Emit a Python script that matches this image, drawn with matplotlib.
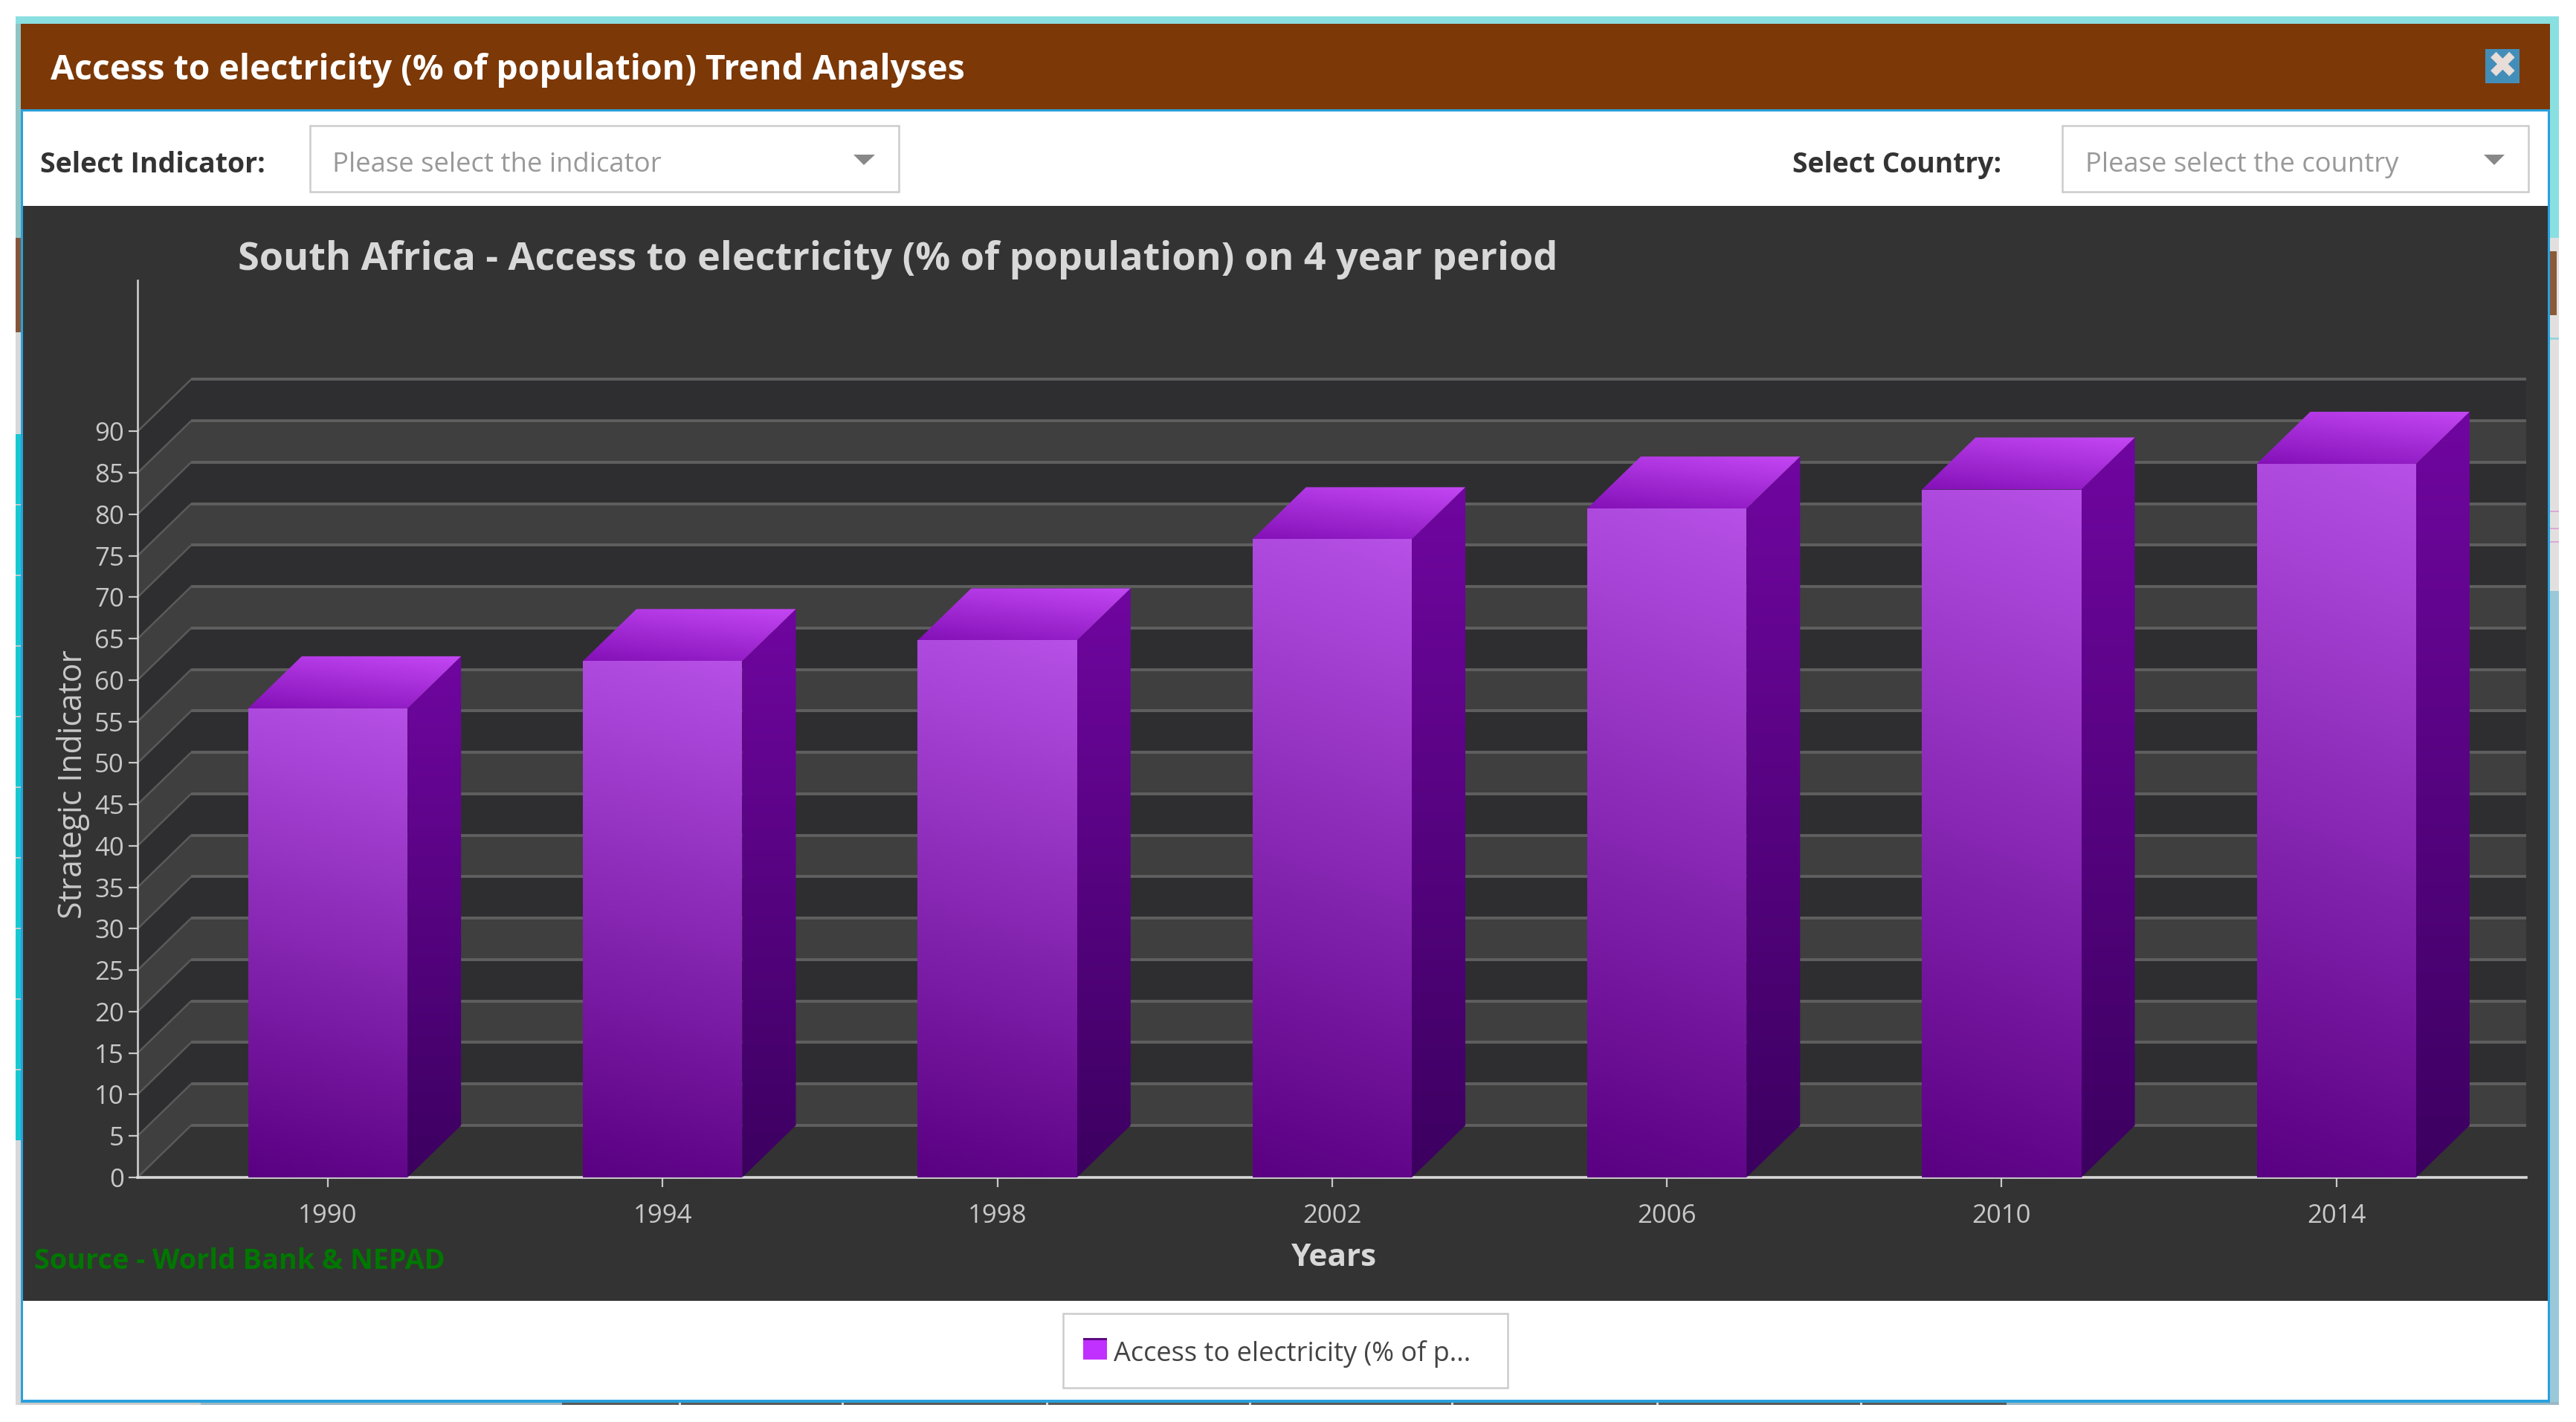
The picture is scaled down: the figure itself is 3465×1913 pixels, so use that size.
import numpy as np
import matplotlib
matplotlib.use("Agg")
import matplotlib.pyplot as plt
from matplotlib.colors import LinearSegmentedColormap
from matplotlib.patches import Polygon, Rectangle

years = ["1990", "1994", "1998", "2002", "2006", "2010", "2014"]
access = [56.6, 62.3, 64.8, 77.0, 80.7, 83.0, 86.1]
y_levels = list(range(0, 95, 5))

plt.rcParams['font.family'] = ['Open Sans', 'DejaVu Sans']

W, H = 3466, 1913
fig = plt.figure(figsize=(W / 100, H / 100), dpi=100, facecolor="white")

# page chrome, in pixel coordinates
bg = fig.add_axes([0, 0, 1, 1])
bg.set_xlim(0, W)
bg.set_ylim(H, 0)
bg.axis("off")


def box(x0, y0, x1, y1, color, **kw):
    bg.add_patch(Rectangle((x0, y0), x1 - x0, y1 - y0, facecolor=color, edgecolor=kw.pop("ec", "none"), **kw))


# bits of the page showing behind the dialog
box(21, 22, 3442, 32, "#8adfe0")
box(21, 32, 28, 320, "#8fc4c4")
box(21, 320, 28, 447, "#85553a")
box(21, 447, 28, 584, "#d8d8d8")
box(21, 584, 28, 1534, "#18c8d0")
for y in range(678, 1530, 95):
    box(21, y, 28, y + 2, "#c8c8c8")
box(21, 1534, 28, 1890, "#d8d8d8")
box(3430, 32, 3442, 320, "#8adfe0")
box(3430, 320, 3442, 795, "#e2e0de")
box(3430, 338, 3439, 424, "#8a5a3a")
box(3430, 454, 3442, 457, "#9ad4dc")
for y in (687, 710, 728):
    box(3430, y, 3442, y + 2, "#dca8d8")
box(3430, 795, 3442, 1890, "#9ac8d8")
box(27, 1886, 270, 1890, "#cccccc")
box(270, 1886, 756, 1890, "#9ab8c4")
box(756, 1886, 2699, 1890, "#5a5a5a")
box(2699, 1886, 3442, 1890, "#9ab8c4")
for sx in (913, 1132, 1407, 1680, 1952, 2228, 2502):
    box(sx, 1886, sx + 3, 1890, "#d8d8d8")

# dialog
box(28, 32, 3430, 147, "#7c3807")
box(28, 147, 3430, 1887, "#2aa0dc")
box(31, 150, 3427, 1883, "white")
box(31, 277, 3427, 1750, "#333333")

bg.text(68, 94, "Access to electricity (% of population) Trend Analyses", color="white",
        fontsize=33.4, fontweight="bold", va="center", ha="left")
box(3343, 66, 3389, 112, "#438eb9")
bg.text(3366, 89, "\u2716", color="#e8ddd8", fontsize=35, va="center", ha="center", family="DejaVu Sans")

bg.text(54, 222, "Select Indicator:", color="#333333", fontsize=27, fontweight="bold", va="center")
bg.text(2411, 222, "Select Country:", color="#333333", fontsize=26.8, fontweight="bold", va="center")
box(417, 169, 1209, 258, "white", ec="#cccccc", lw=1.8)
box(2774, 169, 3401, 258, "white", ec="#cccccc", lw=1.8)
bg.text(447, 222, "Please select the indicator", color="#999999", fontsize=26.3, va="center")
bg.text(2805, 222, "Please select the country", color="#999999", fontsize=26.2, va="center")
bg.add_patch(Polygon([(1148, 208), (1177, 208), (1162, 222)], facecolor="#888888"))
bg.add_patch(Polygon([(3341, 208), (3369, 208), (3355, 222)], facecolor="#888888"))

bg.text(320, 349, "South Africa - Access to electricity (% of population) on 4 year period",
        color="#d8d8d8", fontsize=37.5, fontweight="bold", va="center")
bg.text(46, 1697, "Source - World Bank & NEPAD", color="#007700", fontsize=27.2, fontweight="bold", va="center")

# legend box below the chart
box(1430, 1767, 2028, 1867, "white", ec="#cccccc", lw=1.8)
box(1457, 1800, 1489, 1829, "#c030ff")
box(1457, 1800, 1489, 1803, "#5c0a80")
bg.text(1498, 1821, "Access to electricity (% of p...", color="#444444", fontsize=26, va="center")

# chart axes: y=0 at pixel 1584, 11.15 px per unit, categories 450.3 px apart
ax = fig.add_axes([185 / W, 1 - 1584 / H, (3398 - 185) / W, (1584 - 377) / H])
ax.patch.set_visible(False)
xlim = (-0.5685, 6.567)
ylim = (0, 108.25)
depth_x, depth_y = 0.16, 6.28
half = 0.238
wall = xlim[0] + depth_x

# striped back wall and side wall
for k in range(len(y_levels) - 1):
    lo, hi = y_levels[k], y_levels[k + 1]
    col = "#3f3f3f" if k % 2 == 0 else "#2e2e30"
    ax.add_patch(Polygon([(xlim[0], lo), (wall, lo + depth_y), (xlim[1], lo + depth_y),
                          (xlim[1], hi + depth_y), (wall, hi + depth_y), (xlim[0], hi)],
                         facecolor=col, edgecolor="none", zorder=1))
for lev in y_levels:
    ax.plot([xlim[0], wall], [lev, lev + depth_y], color="#5a5a5a", lw=1.8, zorder=2, solid_capstyle="butt")
    ax.plot([wall, xlim[1]], [lev + depth_y, lev + depth_y], color="#5f5f5f", lw=2.8, zorder=2,
            solid_capstyle="butt")


def gradient_face(pts, c_low, c_high, tilt, z):
    # polygon filled from c_low (bottom) to c_high (top), leaning to the right by tilt
    xs = [p[0] for p in pts]
    ys = [p[1] for p in pts]
    cmap = LinearSegmentedColormap.from_list("face", [c_low, c_high])
    u, v = np.meshgrid(np.linspace(0, 1, 64), np.linspace(0, 1, 256))
    im = ax.imshow((1 - tilt) * v + tilt * u, origin="lower", cmap=cmap, vmin=0, vmax=1, aspect="auto",
                   extent=(min(xs), max(xs), min(ys), max(ys)), interpolation="bilinear", zorder=z)
    im.set_clip_path(Polygon(pts, transform=ax.transData))


for i, val in enumerate(access):
    x0, x1 = i - half, i + half
    gradient_face([(x0, 0), (x1, 0), (x1, val), (x0, val)], "#5a0082", "#b650e6", 0.08, 3)
    gradient_face([(x1, 0), (x1 + depth_x, depth_y), (x1 + depth_x, val + depth_y), (x1, val)],
                  "#3c0060", "#7006a0", 0, 3)
    gradient_face([(x0, val), (x1, val), (x1 + depth_x, val + depth_y), (x0 + depth_x, val + depth_y)],
                  "#8410b8", "#c448f4", 0.32, 3)

ax.set_xlim(*xlim)
ax.set_ylim(*ylim)
ax.set_xticks(range(len(years)), years)
ax.set_yticks(y_levels)
ax.tick_params(axis="x", colors="#c8c8c8", labelsize=25, length=9.5, width=1.6, pad=16)
ax.tick_params(axis="y", colors="#c8c8c8", labelsize=25, length=9, width=1.6, pad=4)
for s in ("top", "right"):
    ax.spines[s].set_visible(False)
ax.spines["left"].set_color("#d4d4d4")
ax.spines["left"].set_linewidth(1.8)
ax.spines["bottom"].set_color("#d8d8d8")
ax.spines["bottom"].set_linewidth(2.6)
ax.set_ylabel("Strategic Indicator", color="#c8c8c8", fontsize=30.8, va="center")
ax.yaxis.set_label_coords(-0.0268, 0.438)
ax.set_xlabel("Years", color="#d8d8d8", fontsize=30.5, fontweight="bold", va="center")
ax.xaxis.set_label_coords(0.5008, -0.0895)

fig.savefig("out.png", dpi=100, facecolor="white")
